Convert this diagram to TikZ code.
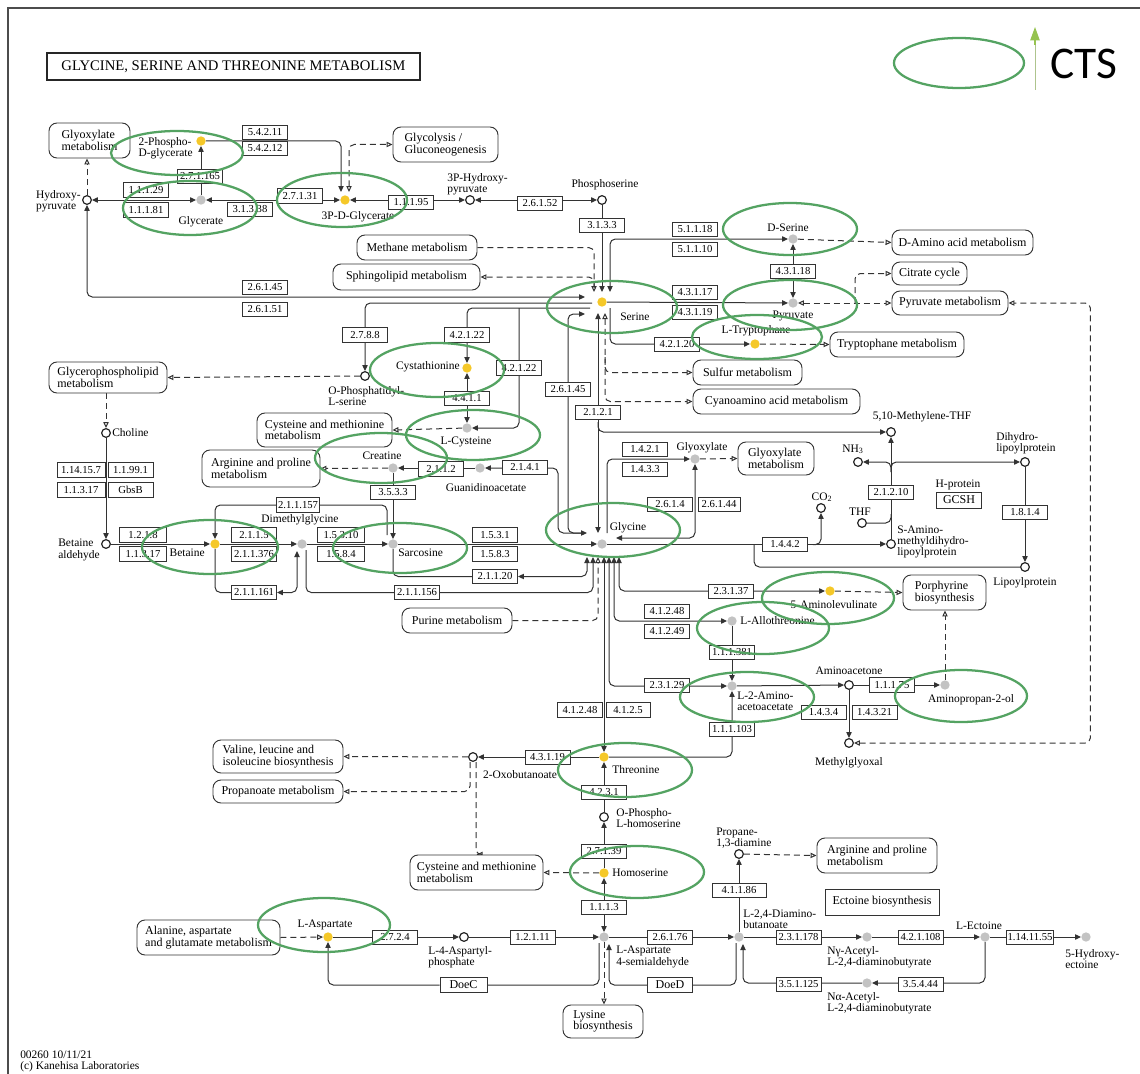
\documentclass[tikz,border=0pt]{standalone}
\usepackage{fontspec}
\setmainfont{Liberation Serif}
\newfontfamily\ctsfont{Carlito}
\usetikzlibrary{arrows.meta,calc,backgrounds}
\definecolor{kgreen}{RGB}{84,163,98}
\definecolor{kyellow}{RGB}{245,200,40}
\definecolor{kgrey}{RGB}{195,195,195}
\definecolor{lgreen}{RGB}{150,195,80}
\newcommand\kfont{\fontsize{9}{8.6}\selectfont}
\newcommand\klfont{\fontsize{8.6}{8.4}\selectfont}
\newcommand\kefont{\fontsize{8}{8}\selectfont}
\tikzset{
 pxw/.style={minimum width={#1*0.75pt}},
 pxh/.style={minimum height={#1*0.75pt}},
 cn/.style={draw=black!80, line width=0.75pt, rounded corners=4pt},
 ca/.style={cn, -{Triangle[length=4.5pt,width=4pt]}},
 cab/.style={cn, {Triangle[length=4.5pt,width=4pt]}-{Triangle[length=4.5pt,width=4pt]}},
 cdl/.style={cn, dash pattern=on 4.5pt off 3pt},
 cda/.style={cdl, -{Triangle[open,length=4.5pt,width=4pt]}},
 cdab/.style={cdl, {Triangle[open,length=4.5pt,width=4pt]}-{Triangle[open,length=4.5pt,width=4pt]}},
 cy/.style={circle, fill=kyellow, inner sep=0pt, minimum size=7pt},
 cg/.style={circle, fill=kgrey, inner sep=0pt, minimum size=7pt},
 co/.style={circle, draw=black!85, line width=0.9pt, fill=white, inner sep=0pt, minimum size=6.5pt},
 enz/.style={draw=black!80, line width=0.7pt, fill=white, font=\kefont, inner xsep=1pt, inner ysep=0pt, minimum width=33.75pt, minimum height=11pt},
 pbx/.style={draw=black!80, line width=0.7pt, fill=white, rounded corners=6pt, font=\kfont, align=left, inner sep=2pt},
 lab/.style={font=\klfont, inner sep=0pt, align=left},
 gell/.style={draw=kgreen, line width=1.7pt},
}
\begin{document}
\begin{tikzpicture}[x=0.75pt,y=-0.75pt]
\useasboundingbox (0,0) rectangle (1140,1074);
% frame
\draw[black!70, line width=0.9pt] (8,1074) -- (8,8) -- (1140,8);
% title
\node[draw=black!85, line width=1.2pt, pxw=373, pxh=27, font=\fontsize{11}{11}\selectfont] (title) at (233.5,66.5) {GLYCINE, SERINE AND THREONINE METABOLISM};
% legend
\coordinate (lga) at (1035,90);
\coordinate (lgb) at (1035,27);
\draw[lgreen!80!black!60, line width=0.6pt] (lga) -- (1035,40);
\draw[draw=lgreen, line width=0.8pt, -{Triangle[length=10pt,width=7pt,fill=lgreen]}] (1035,45) -- (lgb);
\node[font=\ctsfont\fontsize{34}{34}\selectfont, anchor=west, inner sep=0pt] (cts) at (1050,64) {CTS};

% ---------------- compounds
\node[co] (hp) at (87,200) {};
\node[cy] (pg2) at (201,141) {};
\node[cg] (glyr) at (201,200) {};
\node[cy] (pg3) at (345,200) {};
\node[co] (php) at (470,200) {};
\node[co] (pser) at (602,200) {};
\node[cy] (ser) at (602,302) {};
\node[cg] (dser) at (793,239) {};
\node[cg] (pyr) at (793,303) {};
\node[cy] (trp) at (755,344) {};
\node[co] (ops) at (365,376) {};
\node[cy] (cysta) at (467,368) {};
\node[cg] (cys) at (467,428) {};
\node[cg] (cre) at (393,468) {};
\node[cg] (gaa) at (480,468) {};
\node[cg] (glyx) at (695,459) {};
\node[co] (mthf) at (891,432) {};
\node[co] (nh3) at (858,462) {};
\node[co] (dhlp) at (1025,462) {};
\node[co] (thf) at (862,523) {};
\node[co] (co2) at (821,508) {};
\node[co] (samdl) at (891,544) {};
\node[co] (lip) at (1025,567) {};
\node[co] (chol) at (106,433) {};
\node[co] (betald) at (106,544) {};
\node[cy] (bet) at (215,544) {};
\node[cg] (dmg) at (302,544) {};
\node[cg] (sar) at (393,544) {};
\node[cg] (glyc) at (602,544) {};
\node[cy] (ala) at (830,591) {};
\node[cg] (allo) at (732,621) {};
\node[cg] (aka) at (732,686) {};
\node[co] (amac) at (849,685) {};
\node[cg] (amp) at (945,685) {};
\node[co] (mgo) at (849,743) {};
\node[cy] (thr) at (604,757) {};
\node[co] (oxb) at (473,757) {};
\node[co] (phser) at (604,817) {};
\node[cy] (hser) at (604,873) {};
\node[cy] (asp) at (328,937) {};
\node[co] (aspp) at (464,937) {};
\node[cg] (asa) at (604,937) {};
\node[co] (pda) at (739,854) {};
\node[cg] (dab) at (739,937) {};
\node[cg] (nga) at (867,937) {};
\node[cg] (naa) at (867,983) {};
\node[cg] (ect) at (985,937) {};
\node[cg] (hect) at (1086,937) {};

% ---------------- pathway boxes
\node[pbx, pxw=81, pxh=35] (pglx1) at (89.5,140.5) {Glyoxylate\\metabolism};
\node[pbx, pxw=105, pxh=35] (pglyc) at (445.5,144.5) {Glycolysis /\\Gluconeogenesis};
\node[pbx, pxw=120, pxh=25] (pmeth) at (417,247.5) {Methane metabolism};
\node[pbx, pxw=147, pxh=26] (psph) at (406.5,277) {Sphingolipid metabolism};
\node[pbx, pxw=141, pxh=25] (pdaa) at (962.5,242.5) {D-Amino acid metabolism};
\node[pbx, pxw=75, pxh=23] (pcit) at (929.5,273.5) {Citrate cycle};
\node[pbx, pxw=116, pxh=24] (ppyr) at (950,303) {Pyruvate metabolism};
\node[pbx, pxw=134, pxh=25] (ptrp) at (897,344.5) {Tryptophane metabolism};
\node[pbx, pxw=109, pxh=25] (psul) at (747.5,372.5) {Sulfur metabolism};
\node[pbx, pxw=167, pxh=25] (pcya) at (776.5,401.5) {Cyanoamino acid metabolism};
\node[pbx, pxw=118, pxh=31] (pgpl) at (108,377.5) {Glycerophospholipid\\metabolism};
\node[pbx, pxw=135, pxh=34] (pcm1) at (324.5,430) {Cysteine and methionine\\metabolism};
\node[pbx, pxw=118, pxh=37] (pap1) at (261,468.5) {Arginine and proline\\metabolism};
\node[pbx, pxw=76, pxh=33] (pglx2) at (776,458.5) {Glyoxylate\\metabolism};
\node[pbx, pxw=83, pxh=35] (ppor) at (944.5,592.5) {Porphyrine\\biosynthesis};
\node[pbx, pxw=110, pxh=25] (ppur) at (457,620.5) {Purine metabolism};
\node[pbx, pxw=130, pxh=33] (pval) at (278,756.5) {Valine, leucine and\\isoleucine biosynthesis};
\node[pbx, pxw=130, pxh=23] (ppro) at (278,791.5) {Propanoate metabolism};
\node[pbx, pxw=133, pxh=35] (pcm2) at (476.5,872.5) {Cysteine and methionine\\metabolism};
\node[pbx, pxw=120, pxh=35] (pap2) at (877,855.5) {Arginine and proline\\metabolism};
\node[pbx, rounded corners=0pt, pxw=114, pxh=26] (pect) at (882,902) {Ectoine biosynthesis};
\node[pbx, pxw=143, pxh=35] (pala) at (208.5,937.5) {Alanine, aspartate\\and glutamate metabolism};
\node[pbx, pxw=80, pxh=33] (plys) at (603,1021.5) {Lysine\\biosynthesis};

% ---------------- enzymes
\node[enz] (e54211) at (265,132.5) {5.4.2.11};
\node[enz] (e54212) at (265,148.5) {5.4.2.12};
\node[enz] (e271165) at (200,176.5) {2.7.1.165};
\node[enz] (e11129) at (146,190) {1.1.1.29};
\node[enz] (e11181) at (146,210) {1.1.1.81};
\node[enz] (e27131) at (300,196) {2.7.1.31};
\node[enz] (e31338) at (250,209.5) {3.1.3.38};
\node[enz] (e11195) at (411,202.5) {1.1.1.95};
\node[enz] (e26152) at (540,203.5) {2.6.1.52};
\node[enz] (e3133) at (602,225.5) {3.1.3.3};
\node[enz] (e51118) at (695,229.5) {5.1.1.18};
\node[enz] (e51110) at (695,249.5) {5.1.1.10};
\node[enz] (e43118) at (793,271.5) {4.3.1.18};
\node[enz] (e43117) at (695,292.5) {4.3.1.17};
\node[enz] (e43119) at (695,312.5) {4.3.1.19};
\node[enz] (e42120) at (677,344.5) {4.2.1.20};
\node[enz] (e26145a) at (265,287.5) {2.6.1.45};
\node[enz] (e26151) at (265,309.5) {2.6.1.51};
\node[enz] (e2788) at (365,335) {2.7.8.8};
\node[enz] (e42122a) at (467,335) {4.2.1.22};
\node[enz] (e42122b) at (519,368) {4.2.1.22};
\node[enz] (e4411) at (467,398.5) {4.4.1.1};
\node[enz] (e26145b) at (568,389.5) {2.6.1.45};
\node[enz] (e2121) at (598,412.5) {2.1.2.1};
\node[enz] (e2112) at (441,469) {2.1.1.2};
\node[enz] (e2141) at (525,467.5) {2.1.4.1};
\node[enz] (e3533) at (393,492.5) {3.5.3.3};
\node[enz] (e1421) at (645,449.5) {1.4.2.1};
\node[enz] (e1433) at (645,469.5) {1.4.3.3};
\node[enz] (e2614) at (670,504.5) {2.6.1.4};
\node[enz, pxw=42] (e26144) at (719,504.5) {2.6.1.44};
\node[enz] (e21210) at (891,492.5) {2.1.2.10};
\node[enz, pxh=16, font=\kfont] (egcsh) at (959,500) {GCSH};
\node[enz] (e1814) at (1025,512.5) {1.8.1.4};
\node[enz] (e1442) at (785,544.5) {1.4.4.2};
\node[enz, pxw=48] (e114157) at (81,470) {1.14.15.7};
\node[enz] (e11991) at (130.5,470) {1.1.99.1};
\node[enz, pxw=48] (e11317a) at (81,490) {1.1.3.17};
\node[enz] (egbsb) at (130.5,490) {GbsB};
\node[enz, pxw=47] (e1218) at (143,535) {1.2.1.8};
\node[enz, pxw=47] (e11317b) at (143,554) {1.1.3.17};
\node[enz] (e2115) at (254,535) {2.1.1.5};
\node[enz] (e211376) at (254,554) {2.1.1.376};
\node[enz, pxw=43] (e211157) at (298,505) {2.1.1.157};
\node[enz] (e211161) at (254,592.5) {2.1.1.161};
\node[enz, pxw=47] (e15310) at (341,535) {1.5.3.10};
\node[enz, pxw=47] (e1584) at (341,554) {1.5.8.4};
\node[enz] (e1531) at (495,535) {1.5.3.1};
\node[enz] (e1583) at (495,554) {1.5.8.3};
\node[enz] (e21120) at (495,576.5) {2.1.1.20};
\node[enz] (e211156) at (417,592.5) {2.1.1.156};
\node[enz] (e23137) at (731,591.5) {2.3.1.37};
\node[enz] (e41248a) at (667,611.5) {4.1.2.48};
\node[enz] (e41249) at (667,631.5) {4.1.2.49};
\node[enz] (e111381) at (732,652.5) {1.1.1.381};
\node[enz] (e23129) at (667,685.5) {2.3.1.29};
\node[enz] (e11175) at (892,685) {1.1.1.75};
\node[enz] (e1434) at (823.5,712.5) {1.4.3.4};
\node[enz] (e14321) at (874.5,712.5) {1.4.3.21};
\node[enz] (e41248b) at (580,710) {4.1.2.48};
\node[enz, pxw=44] (e4125) at (628,710) {4.1.2.5};
\node[enz] (e111103) at (732,729.5) {1.1.1.103};
\node[enz] (e43119b) at (547.5,757.5) {4.3.1.19};
\node[enz] (e4231) at (604,792.5) {4.2.3.1};
\node[enz] (e27139) at (604,851.5) {2.7.1.39};
\node[enz] (e1113) at (604,907.5) {1.1.1.3};
\node[enz, pxw=54] (e4186) at (739,890.5) {4.1.1.86};
\node[enz] (e2724) at (395,937.5) {2.7.2.4};
\node[enz] (e12111) at (532.5,937.5) {1.2.1.11};
\node[enz] (e26176) at (670,937.5) {2.6.1.76};
\node[enz] (e231178) at (798.5,937.5) {2.3.1.178};
\node[enz] (e421108) at (920.5,937.5) {4.2.1.108};
\node[enz, pxw=46] (e1141155) at (1030,937.5) {1.14.11.55};
\node[enz, pxw=47, font=\kfont] (edoec) at (463.5,985) {DoeC};
\node[enz, font=\kfont] (edoed) at (670,985) {DoeD};
\node[enz] (e354444) at (920.5,984.5) {3.5.4.44};
\node[enz] (e351125) at (798.5,984.5) {3.5.1.125};

% ---------------- connectors (behind boxes)
\begin{scope}[on background layer]
\fill[white] (0,0) rectangle (1140,1074);
\draw[ca] (pg2) -- ($(pg3)+(-4,-59)$) -- ($(pg3)+(-4,-8)$);
\draw[cdab] ($(pg3)+(4,-8)$) |- (pglyc.west);
\draw[ca] (glyr) -- (pg2);
\draw[cab] (hp) -- (glyr);
\draw[cab] (glyr) -- (pg3);
\draw[cab] (pg3) -- (php);
\draw[cab] (php) -- (pser);
\draw[cda] (hp) -- (hp |- pglx1.south);
\draw[cab] ($(ser)+(-17,-5)$) -| (hp);
\draw[ca] (pser) -- ($(ser)+(0,-10)$);
\draw[cda] (pmeth.east) -| ($(ser)+(-8,-10)$);
\draw[cda] ($(ser)+(-8,-14)$) |- (psph.east);
\draw[cab] ($(ser)+(8,-10)$) |- (dser);
\draw[cda] (dser) -- (pdaa.west);
\draw[cab] (dser) -- (pyr);
\draw[ca] (ser) -- (pyr);
\draw[cdab] (pyr) -- (ppyr.west);
\draw[cda] ($(pyr)+(62,0)$) |- (pcit.west);
\draw[ca] ($(ser)+(8,6)$) |- (trp);
\draw[cda] (trp) -- (ptrp.west);
\draw[cdab] (mgo) -| ($(ppyr.east)+(82,0)$) -- (ppyr.east);
\draw[cab] ($(ser)+(-4,11)$) -- ($(glyc)+(-4,-11)$);
\draw[ca] ($(glyc)+(-4,-122)$) |- (mthf);
\draw[cdab] ($(ser)+(3,11)$) |- (pcya.west);
\draw[cda] ($(ser)+(3,55)$) |- (psul.west);
\draw[cab] ($(ser)+(-17,12)$) -| ($(glyc)+(-34,-11)$) -- ($(glyc)+(-15,-11)$);
\draw[ca] ($(glyc)+(-20,-11)$) -| ($(gaa)+(78,0)$) -- (gaa);
\draw[ca] (gaa) -- (cre);
\draw[cda] (cre) -- (pap1.east);
\draw[ca] (cre) -- (sar);
\draw[ca] ($(sar)+(-6,-9)$) |- (e211157) -| (bet);
\draw[cda] (ops) -- (pgpl.east);
\draw[ca] ($(ser)+(-10,1)$) -| (ops);
\draw[ca] ($(ser)+(-12,6)$) -| (cysta);
\draw[ca] ($(ser)+(-83,6)$) |- (cys);
\draw[cab] (cysta) -- (cys);
\draw[cda] (cys) -- (pcm1.east);
\draw[cda] (pgpl.south -| chol) -- (chol);
\draw[ca] (chol) -- (betald);
\draw[ca] (betald) -- (bet);
\draw[ca] (bet) -- (dmg);
\draw[ca] (dmg) -- (sar);
\draw[ca] (sar) -- (glyc);
\draw[cab] (bet) |- (e211161) -| ($(dmg)+(-5,7)$);
\draw[ca] ($(dmg)+(4,6)$) |- (e211156) -| ($(glyc)+(-9,13)$);
\draw[cab] (sar) |- (e21120) -| ($(glyc)+(-15,13)$);
\draw[cda] (ppur.east) -| ($(glyc)+(-4,13)$);
\draw[ca] ($(glyc)+(5,-11)$) |- (glyx);
\draw[cda] (glyx) -- (pglx2.west);
\draw[cab] (glyx) |- ($(glyc)+(14,-6)$);
\draw[ca] (glyc) -- (samdl);
\draw[ca] ($(e1442.east)+(5,0)$) -| (co2);
\draw[cn] ($(e1442.west)+(-8,0)$) |- (lip);
\draw[ca] (samdl) -- (mthf);
\draw[cn] (thf) -| ($(samdl)+(0,-30)$);
\draw[ca] ($(mthf)+(0,40)$) |- (nh3);
\draw[ca] ($(mthf)+(0,40)$) |- (dhlp);
\draw[ca] (dhlp) -- (lip);
\draw[cab] ($(glyc)+(2,13)$) -- (thr);
\draw[cab] ($(glyc)+(7,13)$) |- (aka);
\draw[cab] ($(glyc)+(12,13)$) |- (allo);
\draw[cab] ($(glyc)+(17,13)$) |- (ala);
\draw[cda] (ala) -- (ppor.west);
\draw[cda] (amp) -- (amp |- ppor.south);
\draw[ca] (allo) -- (aka);
\draw[ca] (thr) -| (aka);
\draw[ca] (aka) -- (amac);
\draw[ca] (amac) -- (amp);
\draw[ca] (amac) -- (mgo);
\draw[ca] (thr) -- (oxb);
\draw[cda] (oxb) -- (pval.east);
\draw[cda] ($(oxb)+(-3,5)$) |- (ppro.east);
\draw[cda] ($(oxb)+(3,5)$) |- (pcm2.north);
\draw[ca] (phser) -- (thr);
\draw[ca] (hser) -- (phser);
\draw[cda] (hser) -- (pcm2.east);
\draw[cab] (asa) -- (hser);
\draw[cda] (pala.east) -- (asp);
\draw[ca] (asp) -- (aspp);
\draw[ca] (aspp) -- (asa);
\draw[ca] (asa) -- (dab);
\draw[ca] ($(asa)+(-5,6)$) |- (edoec) -| (asp);
\draw[ca] ($(dab)+(-3,6)$) |- (edoed) -| ($(asa)+(5,7)$);
\draw[cda] (asa) -- (asa |- plys.north);
\draw[ca] (dab) -- (pda);
\draw[cda] (pda) -- (pap2.west);
\draw[ca] (dab) -- (nga);
\draw[ca] (nga) -- (ect);
\draw[ca] (ect) -- (hect);
\draw[ca] (ect) |- (naa);
\draw[ca] (naa) -| ($(dab)+(4,7)$);
\end{scope}

% ---------------- labels
\node[lab, anchor=east] (lhp) at (81,201) {Hydroxy-\\pyruvate};
\node[lab, anchor=east] (lpg2) at (193,148) {2-Phospho-\\D-glycerate};
\node[lab] (lglyr) at (201,222) {Glycerate};
\node[lab] (lpg3) at (358,217) {3P-D-Glycerate};
\node[lab, anchor=south west] (lphp) at (447,195) {3P-Hydroxy-\\pyruvate};
\node[lab] (lpser) at (605,185) {Phosphoserine};
\node[lab, anchor=west] (lser) at (620,317) {Serine};
\node[lab] (ldser) at (788,228) {D-Serine};
\node[lab] (lpyr) at (793,316) {Pyruvate};
\node[lab] (ltrp) at (756,331) {L-Tryptophane};
\node[lab, anchor=north west] (lops) at (328,386) {O-Phosphatidyl-\\L-serine};
\node[lab, anchor=east] (lcysta) at (460,367) {Cystathionine};
\node[lab] (lcys) at (466,442) {L-Cysteine};
\node[lab] (lcre) at (382,456) {Creatine};
\node[lab] (lgaa) at (486,488) {Guanidinoacetate};
\node[lab] (lglyx) at (702,448) {Glyoxylate};
\node[lab] (lmthf) at (922,417) {5,10-Methylene-THF};
\node[lab] (lnh3) at (853,449) {NH\textsubscript{3}};
\node[lab, anchor=west] (ldhlp) at (996,443) {Dihydro-\\lipoylprotein};
\node[lab] (lhprot) at (958,485) {H-protein};
\node[lab] (lthf) at (860,512) {THF};
\node[lab] (lco2) at (822,497) {CO\textsubscript{2}};
\node[lab, anchor=west] (lsamdl) at (897,542) {S-Amino-\\methyldihydro-\\lipoylprotein};
\node[lab] (llip) at (1025,583) {Lipoylprotein};
\node[lab, anchor=west] (lchol) at (112,433) {Choline};
\node[lab, anchor=east] (lbetald) at (100,550) {Betaine\\aldehyde};
\node[lab, anchor=east] (lbet) at (205,553) {Betaine};
\node[lab] (ldmg) at (300,520) {Dimethylglycine};
\node[lab, anchor=west] (lsar) at (398,553) {Sarcosine};
\node[lab] (lglyc) at (628,528) {Glycine};
\node[lab] (lala) at (834,605) {5-Aminolevulinate};
\node[lab, anchor=west] (lallo) at (740,621) {L-Allothreonine};
\node[lab, anchor=west] (laka) at (737,701) {L-2-Amino-\\acetoacetate};
\node[lab] (lamac) at (849,671) {Aminoacetone};
\node[lab] (lamp) at (971,700) {Aminopropan-2-ol};
\node[lab] (lmgo) at (849,763) {Methylglyoxal};
\node[lab, anchor=west] (lthr) at (612,770) {Threonine};
\node[lab] (loxb) at (520,775) {2-Oxobutanoate};
\node[lab, anchor=west] (lphser) at (616,818) {O-Phospho-\\L-homoserine};
\node[lab, anchor=west] (lhser) at (612,873) {Homoserine};
\node[lab] (lasp) at (325,925) {L-Aspartate};
\node[lab, anchor=north west] (laspp) at (428,946) {L-4-Aspartyl-\\phosphate};
\node[lab, anchor=north west] (lasa) at (616,946) {L-Aspartate\\4-semialdehyde};
\node[lab, anchor=south west] (lpda) at (716,849) {Propane-\\1,3-diamine};
\node[lab, anchor=south west] (ldab) at (743,929) {L-2,4-Diamino-\\butanoate};
\node[lab, anchor=north west] (lnga) at (827,946) {Nγ-Acetyl-\\L-2,4-diaminobutyrate};
\node[lab] (lect) at (979,926) {L-Ectoine};
\node[lab, anchor=north west] (lhect) at (1065,949) {5-Hydroxy-\\ectoine};
\node[lab, anchor=north west] (lnaa) at (827,992) {Nα-Acetyl-\\L-2,4-diaminobutyrate};
\node[lab, anchor=south west] (lfoot) at (20,1072) {00260 10/11/21\\(c) Kanehisa Laboratories};

% ---------------- green highlight ellipses
\foreach \cx/\cy/\rx/\ry in {177/153/66/22, 190/208/67/27, 342/200/65/27, 790/229/67/26,
  790/305/67/25, 757/337/65/22, 612/307/65/26, 437/370/67/27, 473/435/67/25,
  381/458/66/25, 210/547/68/27, 400/548/67/25, 613/530/67/27, 828/598/66/26,
  763/628/66/26, 747/697/67/25, 961/696/66/26, 625/770/67/27, 637/872/67/26,
  324/925/66/27, 959/63/65/25}
  \draw[gell] (\cx,\cy) ellipse [x radius=\rx, y radius=\ry];
\end{tikzpicture}
\end{document}
